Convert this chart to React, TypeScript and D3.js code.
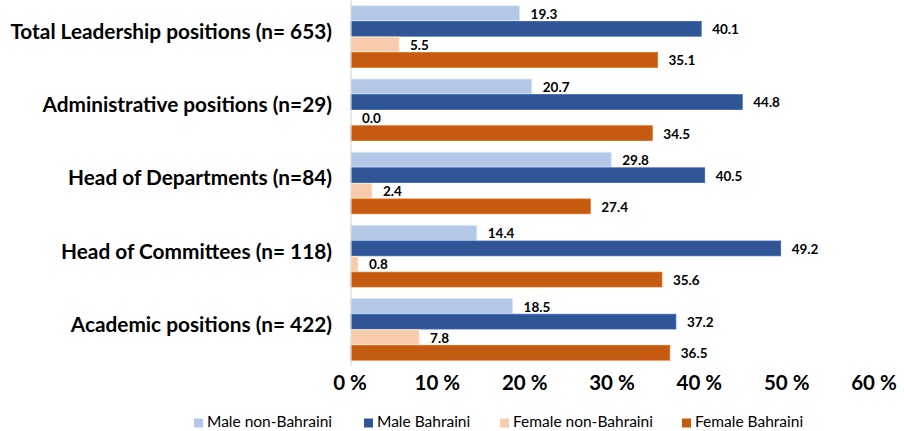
import React from 'react'
import * as d3 from 'd3'

const categories = [
	'Total Leadership positions (n= 653)',
	'Administrative positions (n=29)',
	'Head of Departments (n=84)',
	'Head of Committees (n= 118)',
	'Academic positions (n= 422)'
]
const seriesNames = ['Male non-Bahraini', 'Male Bahraini', 'Female non-Bahraini', 'Female Bahraini']
const seriesColors = ['#B4C7E7', '#2F5597', '#F8CBAD', '#C55A11']
const maleNonBahraini = [19.3, 20.7, 29.8, 14.4, 18.5]
const maleBahraini = [40.1, 44.8, 40.5, 49.2, 37.2]
const femaleNonBahraini = [5.5, 0.0, 2.4, 0.8, 7.8]
const femaleBahraini = [35.1, 34.5, 27.4, 35.6, 36.5]
const tickValues = [0, 10, 20, 30, 40, 50, 60]

const width = 904
const height = 431
const font = 'Lato, "Open Sans", sans-serif'

const App = () => {
	const values = [maleNonBahraini, maleBahraini, femaleNonBahraini, femaleBahraini]

	const x = d3.scaleLinear().domain([0, 60]).range([351, 875])

	const y = d3
		.scaleBand()
		.domain(categories)
		.range([0, 366])
		.paddingInner(0.16)
		.paddingOuter(0.08)
	const ySub = d3
		.scaleBand()
		.domain(seriesNames)
		.range([0, y.bandwidth()])
		.paddingInner(0.05)

	// legend: marker left edges
	const legendX = [194, 364, 500, 682]

	return (
		<svg width={width} height={height} style={{ position: 'absolute', left: 0, top: 0 }}>
			<rect width={width} height={height} fill="#fff" />
			{categories.map((c, i) => (
				<g key={c} transform={`translate(0, ${y(c)})`}>
					<text
						x={332}
						y={y.bandwidth() / 2 - 3}
						textAnchor="end"
						dominantBaseline="middle"
						fontFamily={font}
						fontWeight="bold"
						fontSize={20.8}
						fill="#000"
					>
						{c}
					</text>
					{seriesNames.map((s, j) => {
						const v = values[j][i]
						const by = ySub(s)
						return (
							<g key={s}>
								<rect
									x={x(0)}
									y={by}
									width={x(v) - x(0)}
									height={ySub.bandwidth()}
									fill={seriesColors[j]}
									stroke={d3.color(seriesColors[j]).brighter(0.4).toString()}
									strokeWidth={v > 0 ? 0.8 : 0}
								/>
								<text
									x={x(v) + 11}
									y={by + ySub.bandwidth() / 2 + 2}
									dominantBaseline="middle"
									fontFamily={font}
									fontWeight="bold"
									fontSize={13.5}
									fill="#000"
								>
									{v.toFixed(1)}
								</text>
							</g>
						)
					})}
				</g>
			))}
			<line x1={x(0)} x2={x(0)} y1={0} y2={366} stroke="#D9D9D9" strokeWidth={1.2} />
			{tickValues.map(t => (
				<text
					key={t}
					x={x(t) - 1}
					y={385}
					textAnchor="middle"
					dominantBaseline="middle"
					fontFamily={font}
					fontWeight="bold"
					fontSize={20.5}
					fill="#000"
				>
					{`${t} %`}
				</text>
			))}
			{seriesNames.map((s, j) => (
				<g key={s} transform={`translate(${legendX[j]}, 423)`}>
					<rect x={0} y={-4.5} width={9} height={9} fill={seriesColors[j]} />
					<text
						x={13}
						y={0}
						dominantBaseline="middle"
						fontFamily={font}
						fontSize={15.5}
						fill="#000"
					>
						{s}
					</text>
				</g>
			))}
		</svg>
	)
}

export default App
